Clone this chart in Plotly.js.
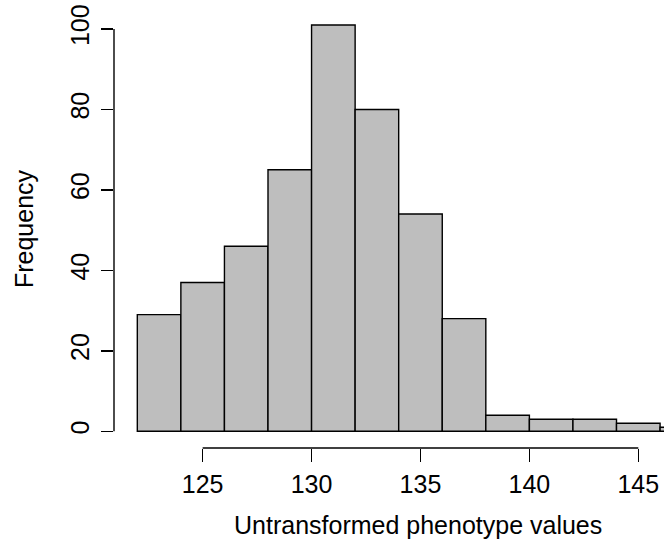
<!DOCTYPE html>
<html><head><meta charset="utf-8">
<script src="https://cdn.plot.ly/plotly-3.0.1.min.js"></script>
</head><body style="margin:0;background:#fff">
<div id="c" style="width:664px;height:548px"></div>
<script>
const breaks = [122,124,126,128,130,132,134,136,138,140,142,144,146,148];
const counts = [29,37,46,65,101,80,54,28,4,3,3,2,1];
const xTicks = [125,130,135,140,145];
const yTicks = [0,20,40,60,80,100];
const xTitle = "Untransformed phenotype values";
const yTitle = "Frequency";

const mids = counts.map((_, i) => (breaks[i] + breaks[i+1]) / 2);
const widths = counts.map((_, i) => breaks[i+1] - breaks[i]);

const font = {family: "Liberation Sans, Arial, Helvetica, sans-serif", size: 25, color: "#000"};

const trace = {
  type: "bar", x: mids, y: counts, width: widths,
  marker: {color: "#BEBEBE", line: {color: "#000", width: 1.4}},
  hoverinfo: "skip"
};

const layout = {
  width: 664, height: 548,
  margin: {l: 114, r: 0, t: 10, b: 100},
  paper_bgcolor: "#fff", plot_bgcolor: "#fff",
  showlegend: false,
  font: font,
  xaxis: {
    range: [120.93, 146.18], tickmode: "array", tickvals: xTicks,
    ticks: "outside", ticklen: 13, tickwidth: 1.4, tickcolor: "#000",
    showgrid: false, zeroline: false, showline: false,
    tickfont: font, ticklabelstandoff: 1
  },
  yaxis: {
    range: [-4.15, 104.72], tickmode: "array", tickvals: yTicks,
    ticks: "outside", ticklen: 12, tickwidth: 1.4, tickcolor: "#000",
    showgrid: false, zeroline: false, showline: false,
    tickangle: -90, tickfont: font, ticklabelstandoff: 2,
    title: {text: yTitle, font: font, standoff: 25}
  },
  annotations: [
    {text: xTitle, xref: "paper", yref: "paper", x: 0.5527, y: -0.1758,
     xanchor: "center", yanchor: "middle", showarrow: false, font: font}
  ],
  shapes: [
    {type: "line", xref: "x", yref: "paper", x0: xTicks[0], x1: xTicks[xTicks.length-1], y0: 0, y1: 0,
     line: {color: "#000", width: 1.4}},
    {type: "line", xref: "paper", yref: "y", x0: 0, x1: 0, y0: yTicks[0], y1: yTicks[yTicks.length-1],
     line: {color: "#000", width: 1.4}}
  ]
};

Plotly.newPlot("c", [trace], layout, {staticPlot: true, displayModeBar: false});
</script>
</body></html>
